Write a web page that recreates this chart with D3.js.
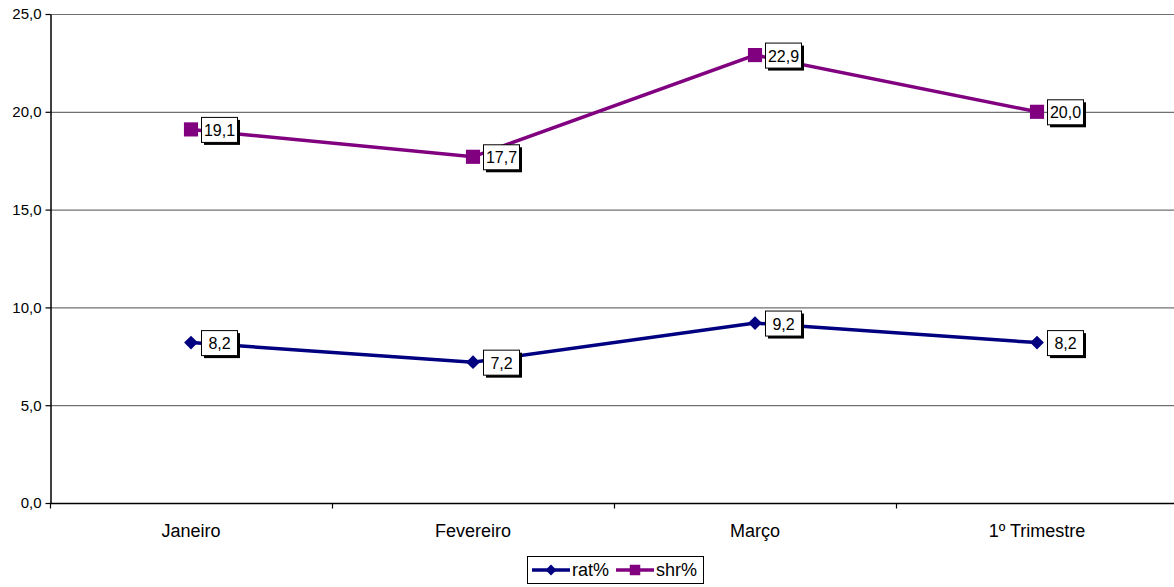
<!DOCTYPE html>
<html><head><meta charset="utf-8">
<script src="https://cdn.jsdelivr.net/npm/d3@7"></script>
<style>body{margin:0;background:#fff}svg{display:block;font-family:"Liberation Sans",Arial,sans-serif}</style>
</head><body><svg id="c" width="1174" height="587"></svg>
<script>
const categories = ["Janeiro","Fevereiro","Março","1º Trimestre"];
const ratValues = [8.2, 7.2, 9.2, 8.2];
const shrValues = [19.1, 17.7, 22.9, 20.0];
const yTicks = [0,5,10,15,20,25];
const seriesNames = ["rat%","shr%"];

const svg = d3.select("#c");
const L = 50, R = 1178, T = 14, B = 503;
const x = d3.scaleBand().domain(categories).range([L,R]);
const y = d3.scaleLinear().domain([0,25]).range([B,T]);
const fmt = v => v.toFixed(1).replace(".", ",");

// gridlines
svg.append("g").selectAll("line").data(yTicks.filter(d=>d>0)).join("line")
  .attr("x1",L).attr("x2",R).attr("y1",d=>y(d)+0.5).attr("y2",d=>y(d)+0.5)
  .attr("stroke","#707070").attr("stroke-width",1.2);

// y axis
const ya = svg.append("g").attr("transform",`translate(${L+0.5},0)`)
  .call(d3.axisLeft(y).tickValues(yTicks).tickFormat(fmt).tickSize(5).tickSizeOuter(0));
ya.select(".domain").attr("stroke","#000").attr("stroke-width",1.5);
ya.selectAll(".tick line").attr("stroke","#000").attr("stroke-width",1.2);
ya.selectAll("text").attr("font-size",15).attr("fill","#000").attr("x",-9);

// x axis
const xa = svg.append("g").attr("transform",`translate(0,${B+0.5})`);
xa.append("line").attr("x1",L).attr("x2",R).attr("stroke","#000").attr("stroke-width",1.5);
const bounds = categories.map(c=>x(c)).concat([R]);
xa.selectAll(".tk").data(bounds).join("line").attr("class","tk")
  .attr("x1",d=>Math.round(d)+0.5).attr("x2",d=>Math.round(d)+0.5).attr("y1",0).attr("y2",5)
  .attr("stroke","#000").attr("stroke-width",1.2);
xa.selectAll("text").data(categories).join("text")
  .attr("x",d=>x(d)+x.bandwidth()/2).attr("y",33).attr("text-anchor","middle")
  .attr("font-size",18).attr("fill","#000").text(d=>d);

const cx = d => x(d)+x.bandwidth()/2;
const line = d3.line().x((d,i)=>cx(categories[i])).y(d=>y(d));

function drawSeries(vals, color, shape, size, rot){
  svg.append("path").datum(vals).attr("d",line).attr("fill","none")
    .attr("stroke",color).attr("stroke-width",3.5);
  svg.append("g").selectAll("path").data(vals).join("path")
    .attr("transform",(d,i)=>`translate(${cx(categories[i])},${y(d)}) rotate(${rot})`)
    .attr("d",d3.symbol().type(shape).size(size)).attr("fill",color);
}
function drawLabels(vals){
  const g = svg.append("g").selectAll("g").data(vals).join("g")
    .attr("transform",(d,i)=>`translate(${cx(categories[i])+10},${y(d)})`);
  const w = 36, h = 25;
  g.append("rect").attr("x",3).attr("y",-h/2+3).attr("width",w).attr("height",h).attr("fill","#000");
  g.append("rect").attr("x",0.5).attr("y",-h/2+0.5).attr("width",w).attr("height",h)
    .attr("fill","#fff").attr("stroke","#000").attr("stroke-width",1);
  g.append("text").attr("x",w/2+0.5).attr("y",6.5).attr("text-anchor","middle")
    .attr("font-size",16).attr("fill","#000").text(d=>fmt(d));
}
drawSeries(ratValues,"#000080",d3.symbolSquare,95,45);
drawSeries(shrValues,"#800080",d3.symbolSquare,200,0);
drawLabels(ratValues);
drawLabels(shrValues);

// legend
const lg = svg.append("g").attr("transform","translate(527,556)");
lg.append("rect").attr("x",0.5).attr("y",0.5).attr("width",176).attr("height",27)
  .attr("fill","#fff").attr("stroke","#000").attr("stroke-width",1);
const items = [{n:seriesNames[0],c:"#000080",s:d3.symbolSquare,sz:60,r:45,x:5},
               {n:seriesNames[1],c:"#800080",s:d3.symbolSquare,sz:110,r:0,x:89}];
items.forEach(it=>{
  lg.append("line").attr("x1",it.x).attr("x2",it.x+38).attr("y1",14).attr("y2",14)
    .attr("stroke",it.c).attr("stroke-width",3.5);
  lg.append("path").attr("transform",`translate(${it.x+19},14) rotate(${it.r})`)
    .attr("d",d3.symbol().type(it.s).size(it.sz)).attr("fill",it.c);
  lg.append("text").attr("x",it.x+40).attr("y",20).attr("font-size",18).attr("fill","#000").text(it.n);
});
</script></body></html>
